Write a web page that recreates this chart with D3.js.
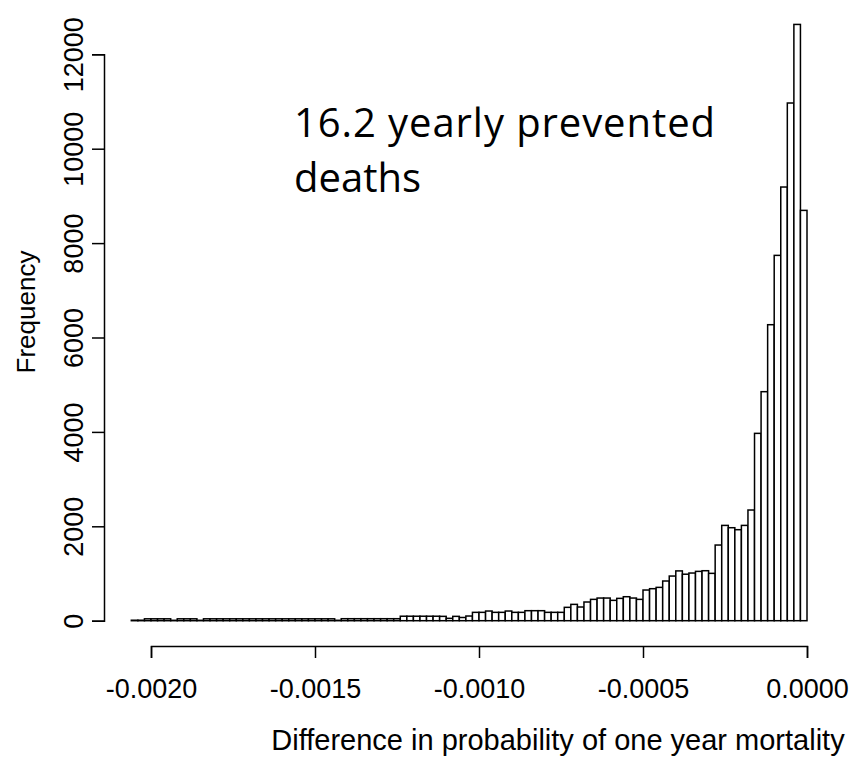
<!DOCTYPE html>
<html>
<head>
<meta charset="utf-8">
<script src="https://cdn.jsdelivr.net/npm/d3@7"></script>
<style>
  html, body { margin: 0; padding: 0; background: #fff; }
  svg { display: block; }
</style>
</head>
<body>
<svg id="chart" width="861" height="760"></svg>
<script>
// Histogram of the per-person difference in one-year mortality probability
const binStart = -0.00206;   // left edge of the first bin
const binWidth = 0.00002;    // width of every bin
const counts = [
  10, 10, 40, 40, 40, 40, 8, 40, 40, 40,
  8, 40, 40, 40, 40, 40, 40, 40, 40, 40,
  40, 40, 40, 40, 40, 40, 40, 40, 40, 40,
  40, 8, 42, 42, 42, 42, 42, 42, 42, 42,
  42, 95, 95, 95, 95, 95, 95, 92, 50, 92,
  68, 99, 177, 177, 205, 177, 177, 205, 177, 177,
  212, 212, 212, 177, 177, 177, 283, 346, 290, 396,
  452, 480, 480, 431, 473, 508, 480, 452, 650, 678,
  706, 841, 946, 1055, 985, 1010, 1045, 1059, 1003, 1603,
  2019, 1970, 1928, 2019, 2345, 3969, 4852, 6271, 7740, 9188,
  10968, 12633, 8693
];
const xTicks = [-0.0020, -0.0015, -0.0010, -0.0005, 0.0000];
const yTicks = [0, 2000, 4000, 6000, 8000, 10000, 12000];
const xTitle = "Difference in probability of one year mortality";
const yTitle = "Frequency";
const noteLines = ["16.2 yearly prevented", "deaths"];

const bins = counts.map((c, i) => ({
  x0: binStart + i * binWidth,
  x1: binStart + (i + 1) * binWidth,
  count: c
}));

const svg = d3.select("#chart");
const x = d3.scaleLinear().domain([-0.0020, 0.0000]).range([151, 807]);
const y = d3.scaleLinear().domain([0, 12000]).range([620.7, 54.3]);

const axisFont = "'Liberation Sans', Arial, Helvetica, sans-serif";

// bars
svg.append("g")
  .selectAll("rect")
  .data(bins)
  .join("rect")
  .attr("x", d => x(d.x0))
  .attr("width", d => x(d.x1) - x(d.x0))
  .attr("y", d => y(d.count))
  .attr("height", d => y(0) - y(d.count))
  .attr("fill", "#fff")
  .attr("stroke", "#000")
  .attr("stroke-width", 1.5);

// x axis
const xAxis = svg.append("g")
  .attr("transform", "translate(0,646)")
  .call(d3.axisBottom(x).tickValues(xTicks).tickFormat(d3.format(".4f")).tickSize(12).tickPadding(21));
xAxis.select(".domain").attr("stroke-width", 1.5);
xAxis.selectAll(".tick line").attr("stroke-width", 1.5);
xAxis.selectAll("text")
  .attr("font-family", axisFont)
  .attr("font-size", 27)
  .attr("fill", "#000")
  .text(d => d3.format(".4f")(d).replace("−", "-"));

// y axis
const yAxis = svg.append("g")
  .attr("transform", "translate(104,0)")
  .call(d3.axisLeft(y).tickValues(yTicks).tickFormat(d3.format("d")).tickSize(12).tickPadding(0));
yAxis.select(".domain").attr("stroke-width", 1.5);
yAxis.selectAll(".tick line").attr("stroke-width", 1.5);
yAxis.selectAll("text")
  .attr("font-family", axisFont)
  .attr("font-size", 27)
  .attr("fill", "#000")
  .attr("text-anchor", "middle")
  .attr("dy", 0)
  .attr("x", 0)
  .attr("transform", "translate(-21,0) rotate(-90)");

// axis titles
svg.append("text")
  .attr("x", 558)
  .attr("y", 750)
  .attr("text-anchor", "middle")
  .attr("font-family", axisFont)
  .attr("font-size", 29)
  .text(xTitle);

svg.append("text")
  .attr("transform", "translate(35,312) rotate(-90)")
  .attr("text-anchor", "middle")
  .attr("font-family", axisFont)
  .attr("font-size", 26)
  .text(yTitle);

// annotation
const note = svg.append("text")
  .attr("font-family", "'Open Sans', 'Noto Sans', sans-serif")
  .attr("font-size", 40)
  .attr("fill", "#000");
note.selectAll("tspan")
  .data(noteLines)
  .join("tspan")
  .attr("x", 294)
  .attr("y", (d, i) => 137 + i * 55)
  .attr("textLength", (d, i) => i === 0 ? 421 : null)
  .attr("lengthAdjust", "spacing")
  .text(d => d);
</script>
</body>
</html>
